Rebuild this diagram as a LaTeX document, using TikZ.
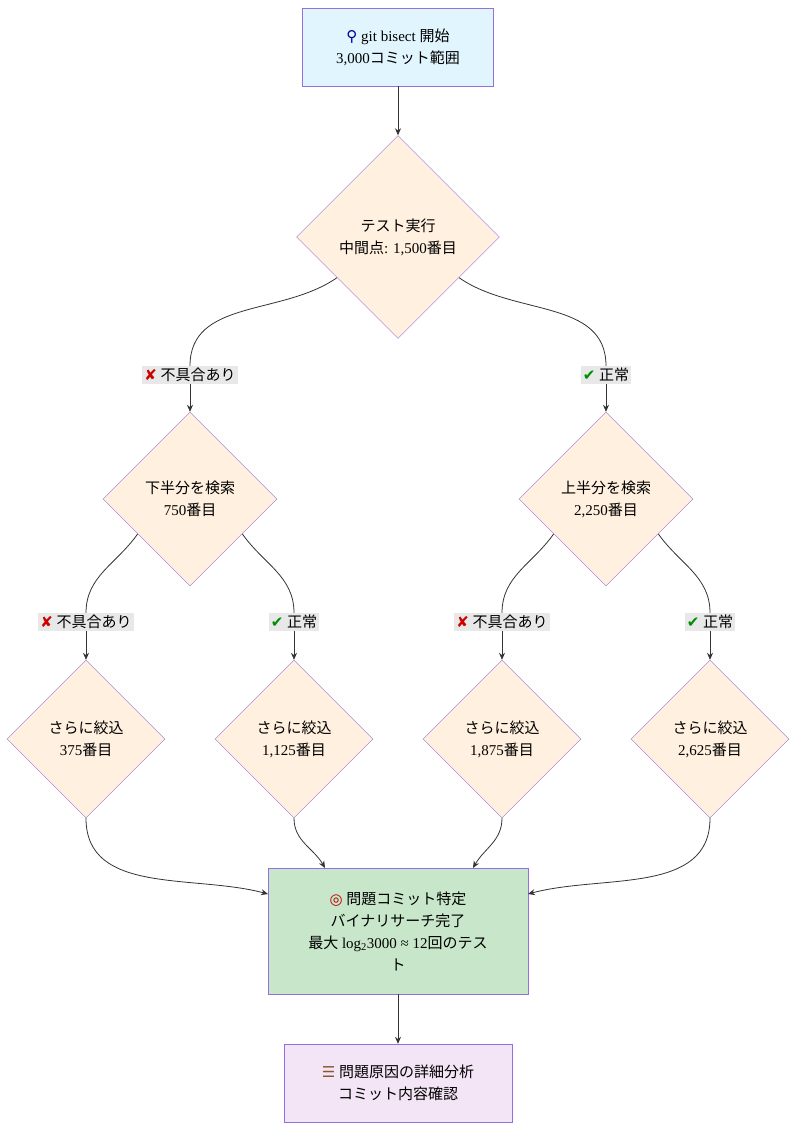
\documentclass[tikz,border=0pt]{standalone}
\usepackage{fontspec}
\setmainfont{Liberation Serif}
\newfontfamily\jp{Noto Sans CJK JP}
\newfontfamily\dv{DejaVu Sans}
\newcommand{\J}[1]{{\jp #1}}
\newcommand{\myNG}{{\dv\color{red!80!black}✘}}
\newcommand{\myOK}{{\dv\color{green!55!black}✔}}
\usetikzlibrary{shapes.geometric,arrows.meta,calc}
\definecolor{bord}{HTML}{9370DB}
\definecolor{gfill}{HTML}{C8E6C9}
\definecolor{dfill}{HTML}{FFF0DF}
\definecolor{bfill}{HTML}{E1F5FE}
\definecolor{pfill}{HTML}{F3E5F5}
\begin{document}
\begin{tikzpicture}[x=1pt,y=-1pt,
  font=\fontsize{15}{22}\selectfont,
  box/.style={draw=bord,align=center,inner sep=0pt},
  dia/.style={draw=bord,fill=dfill,diamond,align=center,inner sep=0pt,minimum width=#1,minimum height=#1},
  lbl/.style={fill=black!9,inner sep=2pt,align=center},
  edge/.style={draw=black!80,line width=0.8pt},
  arr/.style={edge,-{Stealth[length=7pt,width=6pt]}}]
\useasboundingbox (0,0) rectangle (798,1130);
\node[box,fill=bfill,minimum width=191,minimum height=78] (s) at (398,47) {{\dv\color{blue!60!black}⚲} git bisect \J{開始}\\3,000\J{コミット範囲}};
\node[dia=203] (d1) at (398,237) {\J{テスト実行}\\\J{中間点}: 1,500\J{番目}};
\node[lbl] (la) at (190,375) {\myNG\ \J{不具合あり}};
\node[lbl] (lb) at (606,375) {\myOK\ \J{正常}};
\node[dia=174] (dl) at (190,499) {\J{下半分を検索}\\750\J{番目}};
\node[dia=174] (dr) at (606,499) {\J{上半分を検索}\\2,250\J{番目}};
\node[lbl] (l1) at (86,622) {\myNG\ \J{不具合あり}};
\node[lbl] (l2) at (294,622) {\myOK\ \J{正常}};
\node[lbl] (l3) at (502,622) {\myNG\ \J{不具合あり}};
\node[lbl] (l4) at (710,622) {\myOK\ \J{正常}};
\node[dia=158] (b1) at (86,739) {\J{さらに絞込}\\375\J{番目}};
\node[dia=158] (b2) at (294,739) {\J{さらに絞込}\\1,125\J{番目}};
\node[dia=158] (b3) at (502,739) {\J{さらに絞込}\\1,875\J{番目}};
\node[dia=158] (b4) at (710,739) {\J{さらに絞込}\\2,625\J{番目}};
\node[box,fill=gfill,minimum width=260,minimum height=126] (g) at (398,931) {{\dv\color{red!75!black}◎} \J{問題コミット特定}\\\J{バイナリサーチ完了}\\\J{最大} log\textsubscript{2}3000 ≈ 12\J{回のテス}\\\J{ト}};
\node[box,fill=pfill,minimum width=228,minimum height=78] (f) at (398,1083) {{\dv\color{brown!70!black}☰} \J{問題原因の詳細分析}\\\J{コミット内容確認}};
\draw[arr] (s) -- (d1);
\draw[edge] ($(d1.west)!0.4!(d1.south)$) to[out=215,in=90] (la.north);
\draw[arr] (la.south) -- (dl.north);
\draw[edge] ($(d1.east)!0.4!(d1.south)$) to[out=-35,in=90] (lb.north);
\draw[arr] (lb.south) -- (dr.north);
\draw[edge] ($(dl.west)!0.4!(dl.south)$) to[out=235,in=90] (l1.north);
\draw[arr] (l1.south) -- (b1.north);
\draw[edge] ($(dl.east)!0.4!(dl.south)$) to[out=-55,in=90] (l2.north);
\draw[arr] (l2.south) -- (b2.north);
\draw[edge] ($(dr.west)!0.4!(dr.south)$) to[out=235,in=90] (l3.north);
\draw[arr] (l3.south) -- (b3.north);
\draw[edge] ($(dr.east)!0.4!(dr.south)$) to[out=-55,in=90] (l4.north);
\draw[arr] (l4.south) -- (b4.north);
\coordinate (g1) at (268,894);
\coordinate (g2) at (325,868);
\coordinate (g3) at (473,868);
\coordinate (g4) at (528,894);
\draw[arr] (b1.south) to[out=-90,in=165] (g1);
\draw[arr] (b2.south) to[out=-90,in=120] (g2);
\draw[arr] (b3.south) to[out=-90,in=60] (g3);
\draw[arr] (b4.south) to[out=-90,in=15] (g4);
\draw[arr] (g) -- (f);
\end{tikzpicture}
\end{document}
